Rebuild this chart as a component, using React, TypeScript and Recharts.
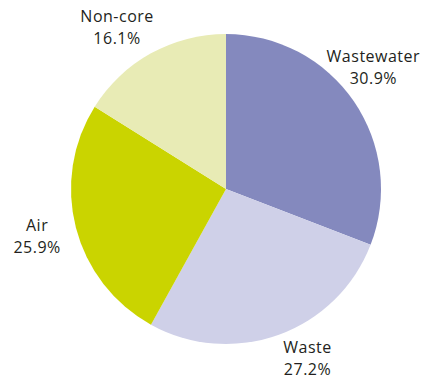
import React from "react";
import { PieChart, Pie, Cell } from "recharts";

const categories = ["Wastewater", "Waste", "Air", "Non-core"];
const shares = [30.9, 27.2, 25.9, 16.1];
const colors = ["#8489be", "#cfd0e8", "#cad400", "#e8ebb5"];

const data = categories.map((name, i) => ({ name, value: shares[i] }));

// small hand nudges so the labels sit where the original put them
const labelNudge: Record<string, [number, number]> = {
  Wastewater: [-11, -13],
  Waste: [16, -11],
  Air: [-3, 0],
  "Non-core": [-16, 7],
};

const RADIAN = Math.PI / 180;

const renderLabel = ({ cx, cy, midAngle, name, value }: any) => {
  const r = 192;
  const [nx, ny] = labelNudge[name] || [0, 0];
  const x = cx + r * Math.cos(-midAngle * RADIAN) + nx;
  const y = cy + r * Math.sin(-midAngle * RADIAN) + ny;
  return (
    <text
      x={x}
      y={y}
      textAnchor="middle"
      fill="#231f20"
      fontSize={16}
      letterSpacing={0.5}
      fontFamily="'Open Sans', sans-serif"
    >
      <tspan x={x} dy={-5.5}>{name}</tspan>
      <tspan x={x} dy={22}>{`${value.toFixed(1)}%`}</tspan>
    </text>
  );
};

const App = () => {
  return (
    <div style={{ position: "absolute", left: 0, top: 0, background: "#fff" }}>
      <PieChart width={423} height={381} margin={{ top: 0, right: 0, bottom: 0, left: 0 }}>
        <Pie
          data={data}
          dataKey="value"
          nameKey="name"
          cx={226}
          cy={189}
          outerRadius={155}
          startAngle={90}
          endAngle={-270}
          stroke="none"
          label={renderLabel}
          labelLine={false}
          isAnimationActive={false}
        >
          {data.map((d, i) => (
            <Cell key={d.name} fill={colors[i]} />
          ))}
        </Pie>
      </PieChart>
    </div>
  );
};

export default App;
